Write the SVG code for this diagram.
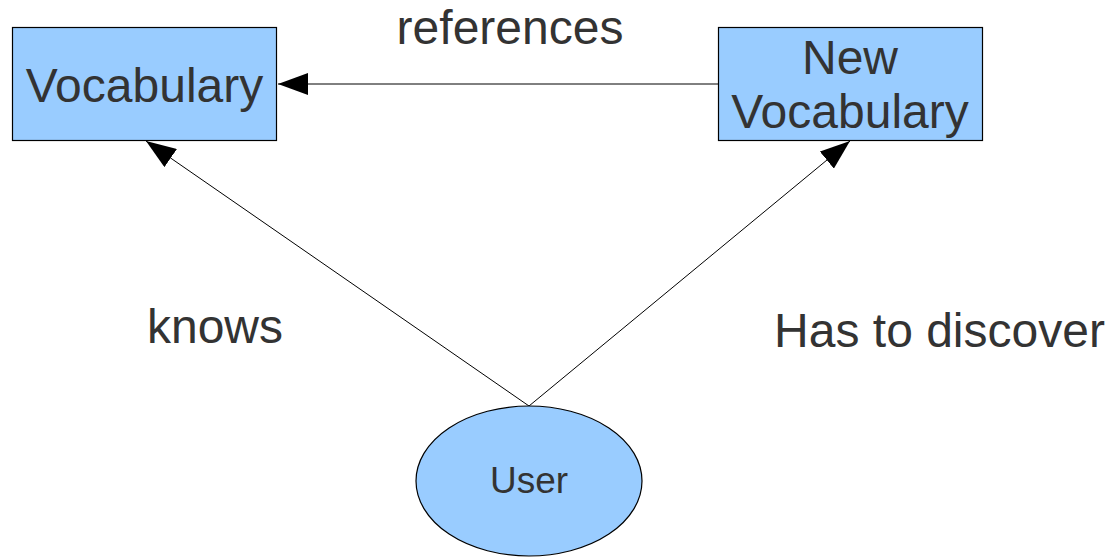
<svg xmlns="http://www.w3.org/2000/svg" width="1109" height="557" viewBox="0 0 1109 557">
<style>
.box{fill:#99ccff;stroke:#000;stroke-width:1.2}
.t{font-family:"Liberation Sans",Arial,sans-serif;fill:#333;text-anchor:middle}
.c{stroke:#000;stroke-width:1;fill:none}
</style>
<defs>
<marker id="ah" markerWidth="30" markerHeight="22" refX="30" refY="11" orient="auto" markerUnits="userSpaceOnUse">
<path d="M0,0 L30,11 L0,22 Z" fill="#000"/>
</marker>
</defs>
<rect width="1109" height="557" fill="#fff"/>
<g id="connectors">
<line class="c" x1="718" y1="84" x2="278" y2="84" marker-end="url(#ah)"/>
<line class="c" x1="529" y1="406" x2="146" y2="141" marker-end="url(#ah)"/>
<line class="c" x1="529" y1="406" x2="850" y2="141" marker-end="url(#ah)"/>
</g>
<g id="vocabulary">
<rect class="box" x="12.5" y="27.5" width="264" height="113"/>
<text class="t" x="144.5" y="102" font-size="48">Vocabulary</text>
</g>
<g id="new-vocabulary">
<rect class="box" x="718.5" y="27.5" width="264" height="113"/>
<text class="t" x="850" y="74" font-size="48">New</text>
<text class="t" x="850" y="128" font-size="48">Vocabulary</text>
</g>
<g id="user">
<ellipse class="box" cx="529" cy="481" rx="113" ry="75"/>
<text class="t" x="529" y="493" font-size="37">User</text>
</g>
<g id="labels">
<text class="t" x="510" y="44" font-size="48">references</text>
<text class="t" x="215" y="343" font-size="48">knows</text>
<text class="t" x="939.5" y="347" font-size="48">Has to discover</text>
</g>
</svg>
